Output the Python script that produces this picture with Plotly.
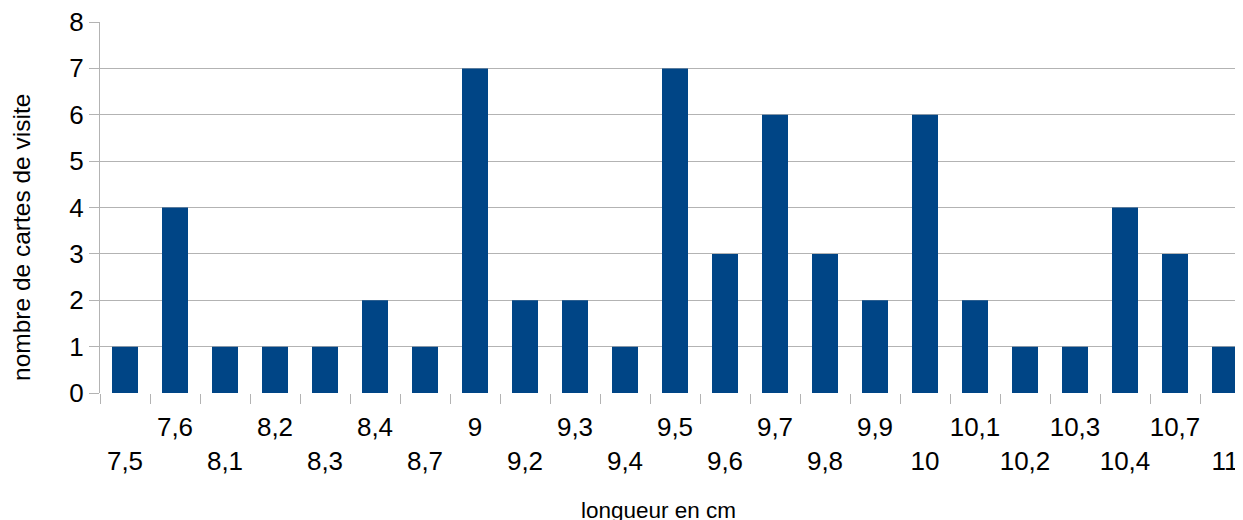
import plotly.graph_objects as go

categories = ["7,5", "7,6", "8,1", "8,2", "8,3", "8,4", "8,7", "9", "9,2", "9,3", "9,4", "9,5",
              "9,6", "9,7", "9,8", "9,9", "10", "10,1", "10,2", "10,3", "10,4", "10,7", "11"]
values = [1, 4, 1, 1, 1, 2, 1, 7, 2, 2, 1, 7, 3, 6, 3, 2, 6, 2, 1, 1, 4, 3, 1]
y_ticks = [0, 1, 2, 3, 4, 5, 6, 7, 8]

# staggered labels: even index on lower row, odd index on upper row
tick_text = [("<br>" + c) if i % 2 == 0 else (c + "<br> ") for i, c in enumerate(categories)]

FONT = "Liberation Sans, Arial, sans-serif"
GRID = "#b3b3b3"

# page body has an 8px default margin, so the figure is laid out 8px in from the window corner
W, H = 1235, 512
L, T, B = 92, 14, 127
plot_w = W - L
plot_h = H - T - B

fig = go.Figure(go.Bar(x=categories, y=values, marker_color="#004586", marker_line_width=0))

fig.update_layout(
    width=W, height=H,
    margin=dict(l=L, r=0, t=T, b=B, autoexpand=False),
    paper_bgcolor="white", plot_bgcolor="white",
    bargap=0.48, showlegend=False,
    font=dict(family=FONT, color="black", size=26),
)
fig.update_xaxes(
    type="category", categoryorder="array", categoryarray=categories,
    range=[-0.5, len(categories) - 0.64], automargin=False,
    tickmode="array", tickvals=categories, ticktext=tick_text,
    ticks="outside", tickson="boundaries", ticklen=10, tickcolor=GRID, tickwidth=1,
    showgrid=False, showline=False, zeroline=False,
    tickfont=dict(size=26, family=FONT, color="black"), tickangle=0,
    ticklabelstandoff=16, ticklabeloverflow="allow",
)
fig.update_yaxes(
    range=[0, 8], tickvals=y_ticks, ticks="outside", ticklen=10, tickcolor=GRID,
    showgrid=True, gridcolor=GRID, gridwidth=1, zeroline=False, automargin=False,
    showline=True, linecolor=GRID, linewidth=1, ticklabeloverflow="allow",
    tickfont=dict(size=26, family=FONT, color="black"),
)
fig.add_annotation(text="longueur en cm", xref="paper", yref="paper",
                   x=(658 - 100) / plot_w, y=-(510 - 393) / plot_h, showarrow=False,
                   xanchor="center", yanchor="middle", font=dict(size=22.5, family=FONT, color="black"))
fig.add_annotation(text="nombre de cartes de visite", xref="paper", yref="paper",
                   x=-(100 - 22) / plot_w, y=(393 - 238) / plot_h, showarrow=False, textangle=-90,
                   xanchor="center", yanchor="middle", font=dict(size=24.5, family=FONT, color="black"))

fig.write_html("out.html")
